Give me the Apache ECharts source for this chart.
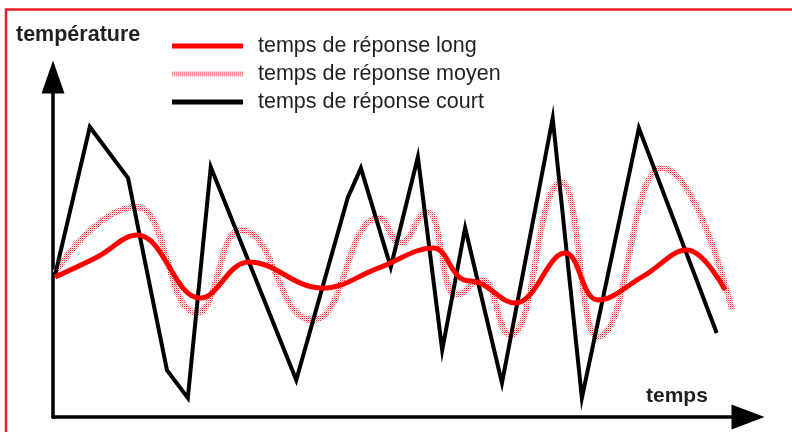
<!DOCTYPE html>
<html>
<head>
<meta charset="utf-8">
<script src="https://cdn.jsdelivr.net/npm/echarts@6/dist/echarts.min.js"></script>
<style>
  html, body { margin: 0; padding: 0; background: #fff; }
  #chart { width: 792px; height: 432px; }
</style>
</head>
<body>
<div id="chart"></div>
<script>
// temps (0-100) / température (0-100)
var courtT = [0.3, 5.3, 10.8, 16.4, 19.4, 22.7, 35.0, 42.4, 44.3, 48.6, 52.5, 56.0, 59.3, 64.6, 71.9, 76.1, 84.3, 95.5];
var courtV = [41.8, 85.3, 70.3, 13.8, 5.6, 73.5, 10.9, 64.4, 73.2, 44.1, 76.5, 19.7, 55.6, 10.0, 87.9, 5.6, 85.0, 24.7];

var moyenT = [0.3, 12.1, 20.7, 26.9, 37.4, 46.9, 49.9, 54.0, 57.8, 61.9, 65.8, 73.2, 78.3, 87.6, 97.7];
var moyenV = [42.4, 61.8, 30.6, 55.0, 28.5, 58.5, 51.2, 60.3, 35.9, 40.3, 24.1, 69.1, 23.5, 73.2, 31.5];

var longT = [0.3, 6.3, 12.1, 21.2, 28.2, 38.8, 46.8, 54.7, 58.6, 61.4, 66.5, 73.7, 78.4, 85.0, 91.2, 96.7];
var longV = [41.2, 47.0, 53.5, 35.0, 45.6, 37.9, 43.8, 49.7, 40.9, 39.4, 33.5, 48.2, 34.4, 41.5, 49.1, 37.4];

var names = ['temps de réponse long', 'temps de réponse moyen', 'temps de réponse court'];

function pairs(t, v) {
  return t.map(function (x, i) { return [x, v[i]]; });
}

// dotted pink texture for the "moyen" line
var pc = document.createElement('canvas');
pc.width = 2; pc.height = 2;
var g = pc.getContext('2d');
g.fillStyle = '#ffffff';
g.fillRect(0, 0, 2, 2);
g.fillStyle = '#ff2a2a';
g.fillRect(0, 0, 1, 1);
g.fillStyle = '#ffb4b4';
g.fillRect(1, 1, 1, 1);
var pinkPattern = { image: pc, repeat: 'repeat' };

var font = '"Liberation Sans", Arial, sans-serif';

var myChart = echarts.init(document.getElementById('chart'));
var option = {
  animation: false,
  backgroundColor: '#fff',
  grid: { left: 53, right: 44, top: 77, bottom: 15 },
  legend: {
    data: names,
    orient: 'vertical',
    left: 172,
    top: 35,
    padding: 0,
    icon: 'rect',
    itemWidth: 71,
    itemHeight: 5,
    itemGap: 6,
    textStyle: { fontFamily: font, fontSize: 21.5, color: '#231f20', padding: [0, 0, 0, 10] }
  },
  xAxis: {
    type: 'value', min: 0, max: 100,
    splitLine: { show: false }, axisTick: { show: false }, axisLabel: { show: false },
    axisLine: { onZero: false, symbol: ['none', 'triangle'], symbolSize: [25, 33],
      lineStyle: { color: '#000', width: 3.5 } }
  },
  yAxis: {
    type: 'value', min: 0, max: 100,
    splitLine: { show: false }, axisTick: { show: false }, axisLabel: { show: false },
    axisLine: { show: true, onZero: false, symbol: ['none', 'triangle'], symbolSize: [23, 33],
      lineStyle: { color: '#000', width: 3.5 } }
  },
  graphic: [
    { type: 'rect', shape: { x: 6, y: 9.5, width: 820, height: 460 },
      style: { fill: 'none', stroke: '#ed1c24', lineWidth: 2.5 }, silent: true },
    { type: 'text', left: 16, top: 24,
      style: { text: 'température', font: 'bold 21.5px ' + font, fill: '#231f20' } },
    { type: 'text', left: 646, top: 386,
      style: { text: 'temps', font: 'bold 21px ' + font, fill: '#231f20' } }
  ],
  series: [
    {
      name: names[1], type: 'line', data: pairs(moyenT, moyenV),
      smooth: 0.5, smoothMonotone: 'x', symbol: 'none', clip: false,
      color: pinkPattern,
      lineStyle: { width: 6, color: pinkPattern }
    },
    {
      name: names[2], type: 'line', data: pairs(courtT, courtV),
      symbol: 'none', clip: false, color: '#000',
      lineStyle: { width: 4, color: '#000', join: 'miter', miterLimit: 20 }
    },
    {
      name: names[0], type: 'line', data: pairs(longT, longV),
      smooth: 0.4, symbol: 'none', clip: false, color: '#ff0000',
      lineStyle: { width: 5, color: '#ff0000' }
    }
  ]
};
myChart.setOption(option, true);
</script>
</body>
</html>
